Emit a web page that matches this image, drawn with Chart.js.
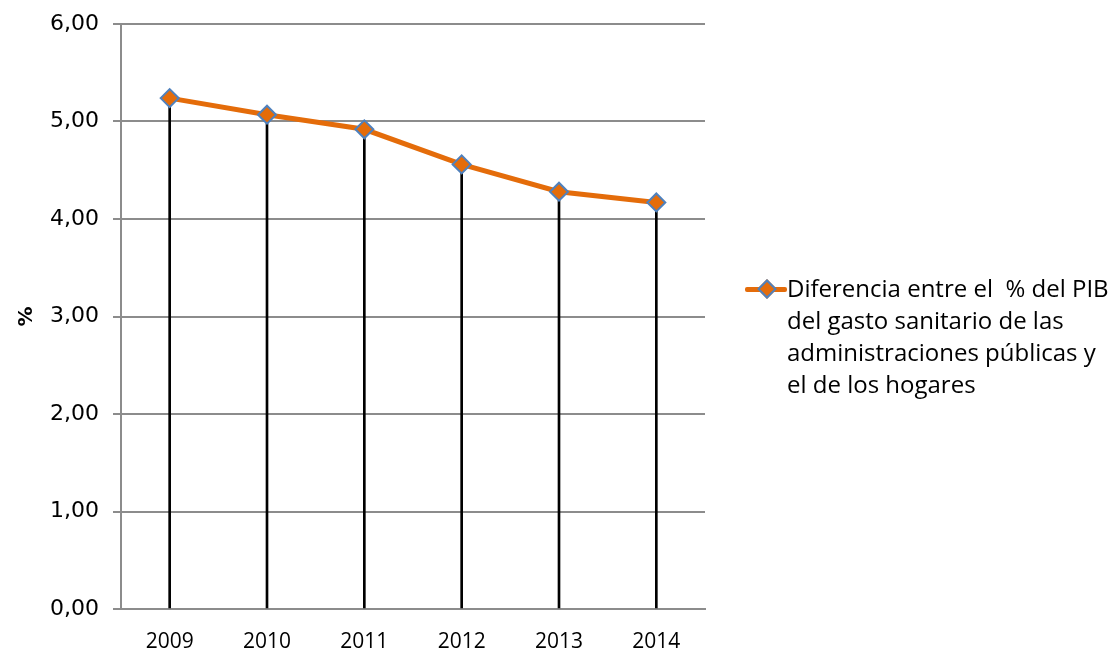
<!DOCTYPE html>
<html>
<head>
<meta charset="utf-8">
<script src="https://cdn.jsdelivr.net/npm/chart.js@4.4.1/dist/chart.umd.min.js"></script>
<style>
  html, body { margin: 0; padding: 0; background: #fff; }
  #wrap { position: relative; width: 1119px; height: 656px; }
  #chart { position: absolute; left: 0; top: 0; }
  #legend { position: absolute; left: 745px; top: 272px; font-family: "Open Sans", sans-serif; font-size: 24px; line-height: 32px; color: #000; }
  #legend .key { position: absolute; left: 0; top: 17px; width: 42px; height: 5px; margin-top: -2px; background: #E46C0A; border-radius: 2px; }
  #legend .dia { position: absolute; left: 15px; top: -5px; width: 10px; height: 10px; background: #E46C0A; border: 2px solid #4F81BD; transform: rotate(45deg); }
  #legend .txt { margin-left: 42px; white-space: nowrap; }
</style>
</head>
<body>
<div id="wrap">
  <canvas id="chart" width="1119" height="656"></canvas>
  <div id="legend">
    <div class="key"><div class="dia"></div></div>
    <div class="txt">Diferencia entre el&nbsp; % del PIB<br>del gasto sanitario de las<br>administraciones públicas y<br>el de los hogares</div>
  </div>
</div>
<script>
// ================== DATA ==================
const years = ["2009", "2010", "2011", "2012", "2013", "2014"];
const diffValues = [5.24, 5.07, 4.92, 4.56, 4.28, 4.17];
const yTicks = [0, 1, 2, 3, 4, 5, 6];
const seriesName = "Diferencia entre el  % del PIB del gasto sanitario de las administraciones públicas y el de los hogares";

// ================== CHART ==================
const ctx = document.getElementById("chart");

new Chart(ctx, {
    type: 'line',
    data: {
        labels: years,
        datasets: [
            {
                label: seriesName,
                data: diffValues,
                borderColor: '#E46C0A',
                borderWidth: 5,
                backgroundColor: '#E46C0A',
                pointStyle: 'rectRot',
                pointRadius: 9,
                pointBorderColor: '#4F81BD',
                pointBorderWidth: 2,
                pointBackgroundColor: '#E46C0A',
                tension: 0,
                order: 0
            },
            {
                // vertical drop lines from each point to the axis
                type: 'bar',
                label: 'drop',
                data: diffValues,
                backgroundColor: '#000',
                barThickness: 2,
                order: 1
            }
        ]
    },
    options: {
        responsive: false,
        animation: false,
        layout: { padding: { left: 15, right: 414, top: 24, bottom: 0 } },
        plugins: {
            legend: { display: false },
            tooltip: { enabled: false }
        },
        scales: {
            x: {
                offset: true,
                afterFit: axis => { axis.height = 47; },
                grid: { display: false, drawTicks: false },
                border: { color: '#8C8C8C', width: 2 },
                ticks: {
                    color: '#000',
                    padding: 20,
                    font: { family: 'Open Sans', size: 21 }
                }
            },
            y: {
                min: 0,
                max: 6,
                afterBuildTicks: axis => { axis.ticks = yTicks.map(v => ({ value: v })); },
                afterFit: axis => {
                    axis.width = 106;
                    axis.paddingTop = 0;
                    axis.paddingBottom = 0;
                },
                grid: { color: '#8C8C8C', lineWidth: 2, tickLength: 8 },
                border: { color: '#8C8C8C', width: 2 },
                ticks: {
                    color: '#000',
                    padding: 14,
                    font: { family: 'DejaVu Sans', size: 22 },
                    callback: v => v.toFixed(2).replace('.', ',')
                },
                title: {
                    display: true,
                    text: '%',
                    color: '#000',
                    font: { family: 'DejaVu Sans', size: 20, weight: 'bold' },
                    padding: 0
                }
            }
        }
    }
});
</script>
</body>
</html>
